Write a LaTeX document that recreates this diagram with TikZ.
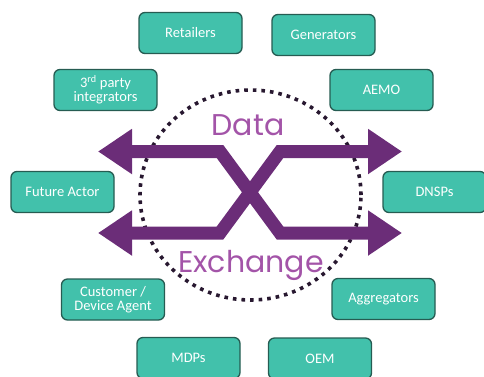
\documentclass[tikz,border=0pt]{standalone}
\usepackage{fontspec}
\setmainfont{Carlito}
\newfontfamily\titlefont{Poppins}
\usetikzlibrary{arrows.meta}
\definecolor{actorfill}{RGB}{66,193,171}
\definecolor{actorline}{RGB}{38,92,82}
\definecolor{flowpurple}{RGB}{107,45,120}
\definecolor{wordpurple}{RGB}{163,84,168}
\definecolor{ringdots}{RGB}{40,24,48}
\tikzset{
  actor/.style={draw=actorline, line width=1.3pt, fill=actorfill, rounded corners=6pt,
    minimum width=103pt, minimum height=41pt, text=white, align=center,
    font=\fontsize{14.5}{15}\selectfont, inner sep=2pt},
  flow/.style={draw=flowpurple, line width=13pt, line join=miter,
    {Triangle[length=34pt,width=43pt]}-{Triangle[length=34pt,width=43pt]}},
  ring/.style={draw=ringdots, line width=3.6pt, dash pattern=on 3.6pt off 5pt},
  bigword/.style={text=wordpurple, font=\titlefont\fontsize{30}{32}\selectfont, inner sep=0pt}
}
\begin{document}
\begin{tikzpicture}[x=1pt,y=-1pt]
  \useasboundingbox (0,0) rectangle (484,376);
  \clip (0,0) rectangle (484,376);

  % dotted ring behind the exchange arrows
  \draw[ring] (250.5,195) ellipse [x radius=110.5pt, y radius=105pt];

  % crossing double-headed exchange arrows
  \coordinate (tl) at (98,151.5);
  \coordinate (tr) at (402,151.5);
  \coordinate (bl) at (98,233);
  \coordinate (br) at (402,233);
  \draw[flow] (tl) -- (220,151.5) -- (280,233) -- (br);
  \draw[flow] (tr) -- (280,151.5) -- (220,233) -- (bl);

  % title words
  \node[bigword, anchor=base] (data) at (248,135) {Data};
  \node[bigword, anchor=base] (exch) at (251,272) {Exchange};

  % market actors around the ring
  \node[actor] (retailers)  at (190.5,33) {Retailers};
  \node[actor] (generators) at (323.5,35) {Generators};
  \node[actor] (thirdparty) at (105.5,90) {3\textsuperscript{rd} party\\[-1pt]integrators};
  \node[actor] (aemo)       at (381.5,90) {AEMO};
  \node[actor] (future)     at (62.5,192) {Future Actor};
  \node[actor] (dnsps)      at (434.5,192) {DNSPs};
  \node[actor] (customer)   at (113,299.5)  {Customer /\\[-1pt]Device Agent};
  \node[actor] (aggreg)     at (383.5,299)  {Aggregators};
  \node[actor] (mdps)       at (188.5,358)  {MDPs};
  \node[actor] (oem)        at (320,358.5)  {OEM};
\end{tikzpicture}
\end{document}
